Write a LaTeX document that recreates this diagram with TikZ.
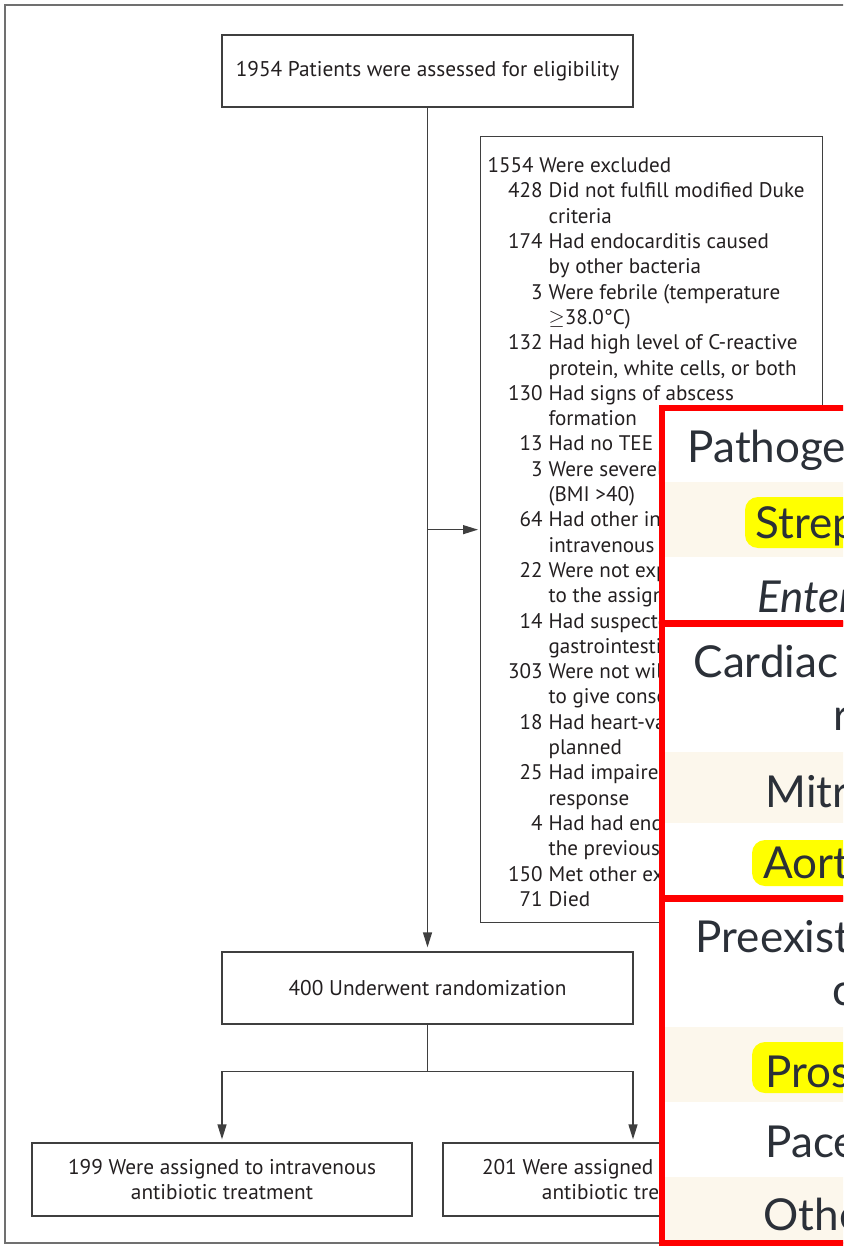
\documentclass[tikz,border=0pt]{standalone}
\usepackage{fontspec}
\setmainfont{PT Sans}
\newfontfamily\tabfont{Lato}
\usepackage{array}
\usetikzlibrary{arrows.meta, calc, positioning}

\definecolor{boxline}{HTML}{3F3F3F}
\definecolor{inktext}{HTML}{231F20}
\definecolor{framegray}{HTML}{707070}
\definecolor{overlayred}{HTML}{FF0000}
\definecolor{rowcream}{HTML}{FCF7EC}
\definecolor{hiyellow}{HTML}{FFFF00}
\definecolor{tabtext}{HTML}{2B3038}

\tikzset{
  flowbox/.style={draw=boxline, line width=1.3pt, minimum height=72pt, align=center,
    inner sep=0pt, text=inktext, font=\fontsize{21.3}{25.3}\selectfont},
  listbox/.style={draw=boxline, line width=1.3pt, inner xsep=7pt, inner ysep=0pt,
    text=inktext, font=\fontsize{21.1}{25.3}\selectfont},
  tabpanel/.style={draw=overlayred, line width=6.5pt, fill=white},
  tabrow/.style={fill=rowcream},
  hilite/.style={fill=hiyellow, rounded corners=13pt},
  tabcell/.style={anchor=base west, inner sep=0pt, text=tabtext,
    font=\tabfont\fontsize{44}{52}\selectfont},
}

\begin{document}
\begin{tikzpicture}[x=1pt, y=-1pt, >={Triangle[length=15pt, width=9pt]}, line width=1.3pt]
  \useasboundingbox (0,0) rectangle (843,1246);
  \clip (0,0) rectangle (843,1246);
  \draw[framegray, line width=1.5pt] (860,5) -- (5,5) -- (5,1243) -- (860,1243);

  % ===== Flowchart =====
  \node[flowbox, minimum width=411pt] (elig) at (427.5,71) {1954 Patients were assessed for eligibility};
  \node[listbox, anchor=north west] (excl) at (480,136) {\parbox[c][786pt][t]{328pt}{\vspace*{18.3pt}%
    \begin{tabular}{@{}>{\raggedleft\arraybackslash}p{55pt}@{\hspace{6pt}}l@{}}
      \multicolumn{2}{@{}l@{}}{1554 Were excluded}\\
      428 & Did not fulfill modified Duke\\
          & criteria\\
      174 & Had endocarditis caused\\
          & by other bacteria\\
      3   & Were febrile (temperature\\
          & $\geq$38.0°C)\\
      132 & Had high level of C-reactive\\
          & protein, white cells, or both\\
      130 & Had signs of abscess\\
          & formation\\
      13  & Had no TEE performed\\
      3   & Were severely obese\\
          & (BMI >40)\\
      64  & Had other indication for\\
          & intravenous therapy\\
      22  & Were not expected to adhere\\
          & to the assigned treatment\\
      14  & Had suspected reduced\\
          & gastrointestinal absorption\\
      303 & Were not willing or able\\
          & to give consent\\
      18  & Had heart-valve surgery\\
          & planned\\
      25  & Had impaired immune\\
          & response\\
      4   & Had had endocarditis within\\
          & the previous 6 mo\\
      150 & Met other exclusion criteria\\
      71  & Died
    \end{tabular}}};
  \node[flowbox, minimum width=411pt] (rand) at (427.5,988) {400 Underwent randomization};
  \node[flowbox, minimum width=380pt, minimum height=73pt] (ivtx) at (222,1179.5)
    {199 Were assigned to intravenous\\antibiotic treatment};
  \node[flowbox, minimum width=380pt, minimum height=73pt] (oraltx) at (633,1179.5)
    {201 Were assigned to partial oral\\antibiotic treatment};

  \draw[->, boxline, shorten >=4pt] (elig.south) -- (rand.north);
  \draw[->, boxline, shorten >=2pt] (elig.south |- excl.west) -- (excl.west);
  \coordinate (split) at ($(rand.south)+(0,47)$);
  \draw[boxline] (rand.south) -- (split);
  \draw[->, boxline, shorten >=3pt] (split) -| (ivtx.north);
  \draw[->, boxline, shorten >=3pt] (split) -| (oraltx.north);

  % ===== Table overlay =====
  \draw[tabpanel] (662,408) rectangle (900,623);
  \fill[tabrow] (665.3,482) rectangle (900,557);
  \fill[hilite] (745,497) rectangle (920,548);
  \node[tabcell] (pathhead) at (687,462) {Pathogen};
  \node[tabcell] (strep) at (755,538) {Streptococci};
  \node[tabcell, font=\tabfont\itshape\fontsize{44}{52}\selectfont] (entero) at (757,612) {Enterococcus faecalis};

  \draw[tabpanel] (662,624) rectangle (900,898);
  \fill[tabrow] (665.3,752) rectangle (900,823);
  \fill[hilite] (752,840) rectangle (920,886);
  \node[tabcell] (valvehead) at (693,677) {Cardiac};
  \node[tabcell] (valvesub) at (833,730) {r};
  \node[tabcell] (mitral) at (765,807) {Mitral};
  \node[tabcell] (aortic) at (763,878) {Aortic};

  \draw[tabpanel] (662,899) rectangle (900,1243);
  \fill[tabrow] (665.3,1027) rectangle (900,1102);
  \fill[tabrow] (665.3,1177) rectangle (900,1239.7);
  \fill[hilite] (752,1042) rectangle (920,1093);
  \node[tabcell] (prehead) at (695,952) {Preexisting};
  \node[tabcell] (presub) at (832,1005) {c};
  \node[tabcell] (prosth) at (765,1087) {Prosthetic};
  \node[tabcell] (pacer) at (765,1157) {Pacemaker};
  \node[tabcell] (other) at (763,1230) {Other};
\end{tikzpicture}
\end{document}
